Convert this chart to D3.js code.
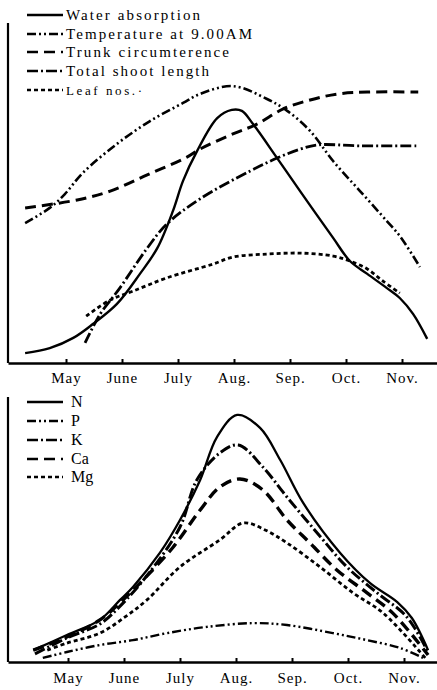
<!DOCTYPE html>
<html>
<head>
<meta charset="utf-8">
<script src="https://cdn.jsdelivr.net/npm/d3@7/dist/d3.min.js"></script>
<style>
  html, body { margin: 0; padding: 0; background: #fff; }
  svg { display: block; }
  svg text { font-family: "Liberation Serif", "DejaVu Serif", "Times New Roman", serif; fill: #000; }
</style>
</head>
<body>
<svg id="chart" width="437" height="690"></svg>
<script>
// ---- Month axis ----
const monthTicks = [5, 6, 7, 8, 9, 10, 11];
const monthLabels = ["May", "June", "July", "Aug.", "Sep.", "Oct.", "Nov."];

// ---- Upper panel: growth and environment (relative units) ----
const waterT = [4.27, 4.71, 5.13, 5.48, 5.91, 6.32, 6.63, 6.91, 7.09, 7.34, 7.70, 7.96, 8.14, 8.34, 8.77, 9.18, 9.77, 10.07, 10.38, 10.73, 10.96, 11.20, 11.45];
const waterV = [3.0, 4.5, 7.6, 11.8, 17.9, 27.0, 34.8, 46.1, 55.2, 64.2, 74.2, 76.7, 76.4, 72.4, 62.1, 52.1, 37.9, 30.9, 27.0, 22.7, 19.7, 14.8, 7.3];

const tempT = [4.27, 4.71, 4.98, 5.30, 5.91, 6.50, 7.09, 7.39, 7.98, 8.59, 8.95, 9.36, 9.77, 10.25, 10.73, 10.96, 11.32];
const tempV = [42.4, 47.0, 51.2, 57.6, 66.4, 73.3, 78.8, 81.5, 83.9, 80.0, 76.4, 70.3, 61.2, 52.1, 43.0, 38.5, 29.1];

const trunkT = [4.27, 5.20, 5.79, 6.45, 7.16, 7.39, 7.98, 8.41, 8.88, 9.36, 9.84, 10.38, 11.29];
const trunkV = [47.0, 49.4, 52.1, 57.0, 62.4, 64.8, 69.4, 72.4, 77.0, 79.7, 81.5, 82.1, 82.1];

const shootT = [5.34, 5.61, 5.96, 6.45, 6.80, 7.39, 8.29, 8.77, 9.18, 9.50, 10.25, 11.29];
const shootV = [6.1, 14.8, 22.7, 34.8, 42.1, 49.7, 58.2, 62.1, 64.8, 66.1, 65.8, 65.8];

const leafT = [5.36, 5.79, 6.20, 6.80, 7.63, 7.98, 8.59, 9.18, 9.77, 10.07, 10.38, 10.66, 10.96];
const leafV = [14.2, 19.1, 21.8, 25.8, 30.0, 32.1, 33.0, 33.3, 32.4, 30.9, 28.5, 24.8, 21.2];

const topNames = ["Water absorption", "Temperature at 9.00AM", "Trunk circumterence", "Total shoot length", "Leaf nos.·"];

// ---- Lower panel: nutrient uptake (relative units) ----
const nT = [4.38, 4.98, 5.57, 5.93, 6.16, 6.64, 7.00, 7.36, 7.66, 8.02, 8.43, 8.79, 9.20, 9.86, 10.39, 10.88, 11.14, 11.43];
const nV = [4.4, 10.0, 15.6, 23.0, 27.8, 40.4, 52.6, 67.4, 83.3, 91.5, 86.7, 74.8, 58.9, 40.4, 29.3, 22.2, 16.3, 4.4];

const pT = [4.55, 4.98, 5.57, 6.16, 6.77, 7.48, 8.30, 8.91, 9.73, 10.34, 10.93, 11.34];
const pV = [1.5, 3.7, 6.3, 8.1, 10.7, 13.0, 14.4, 13.7, 10.7, 8.1, 5.2, 1.5];

const kT = [4.41, 4.98, 5.57, 5.93, 6.46, 7.00, 7.30, 7.71, 8.04, 8.48, 8.91, 9.45, 9.98, 10.52, 11.05, 11.43];
const kV = [3.0, 8.9, 14.1, 20.7, 33.3, 50.0, 67.4, 77.4, 80.4, 72.2, 61.1, 47.8, 35.2, 25.6, 16.7, 3.7];

const caT = [4.38, 4.98, 5.57, 5.98, 6.34, 6.88, 7.36, 7.71, 8.07, 8.48, 8.91, 9.32, 9.80, 10.34, 10.80, 11.43];
const caV = [4.4, 9.3, 15.6, 23.0, 30.4, 42.6, 56.3, 64.8, 67.8, 63.7, 52.6, 44.1, 34.1, 25.6, 18.1, 2.6];

const mgT = [4.63, 4.98, 5.57, 6.02, 6.41, 7.00, 7.71, 8.13, 8.52, 8.91, 9.50, 10.09, 10.63, 11.38];
const mgV = [4.4, 7.0, 10.7, 16.7, 23.0, 35.2, 45.2, 51.5, 48.9, 44.1, 35.2, 25.6, 18.1, 1.5];

const bottomNames = ["N", "P", "K", "Ca", "Mg"];

// ---- Drawing ----
const FONT = "'Liberation Serif', 'DejaVu Serif', serif";
const svg = d3.select("#chart");
const zip = (ts, vs) => ts.map((t, i) => [t, vs[i]]);

const styles = {
  solid:   { dash: null,                 w: 2.4 },
  dashDot2:{ dash: "9,3,2,3,2,3",        w: 2.6 },
  longDash:{ dash: "11,6",               w: 3.0 },
  dashDot: { dash: "11,3,2,3",           w: 2.8 },
  short:   { dash: "4,3",                w: 2.8 }
};

function panel(cfg) {
  const x = d3.scaleLinear().domain(cfg.tDomain).range([8, 437]);
  const y = d3.scaleLinear().domain([0, 100]).range([cfg.axisY, cfg.topY]);
  const g = svg.append("g");

  // left vertical axis line
  g.append("line")
    .attr("x1", 8).attr("x2", 8)
    .attr("y1", cfg.leftTop).attr("y2", cfg.axisY)
    .attr("stroke", "#000").attr("stroke-width", 2.2);

  // bottom month axis with small upward ticks
  const ax = g.append("g")
    .attr("transform", `translate(0,${cfg.axisY})`)
    .call(d3.axisBottom(x)
      .tickValues(monthTicks)
      .tickFormat((d, i) => monthLabels[i])
      .tickSizeInner(-4).tickSizeOuter(0)
      .tickPadding(cfg.pad));
  ax.attr("font-family", FONT).attr("font-size", 15);
  ax.select(".domain").attr("stroke", "#000").attr("stroke-width", 2.4);
  ax.selectAll(".tick line").attr("stroke", "#000").attr("stroke-width", 2);
  ax.selectAll(".tick text")
    .attr("y", cfg.pad).attr("dy", "0.71em")
    .attr("font-family", FONT)
    .style("font-size", "15px")
    .style("letter-spacing", "1px")
    .attr("fill", "#000");

  const line = d3.line()
    .x(d => x(d[0])).y(d => y(d[1]))
    .curve(d3.curveCatmullRom.alpha(0.5));

  cfg.series.forEach(s => {
    const st = styles[s.style];
    g.append("path")
      .datum(zip(s.t, s.v))
      .attr("d", line)
      .attr("fill", "none")
      .attr("stroke", "#000")
      .attr("stroke-width", s.w || st.w)
      .attr("stroke-dasharray", st.dash)
      .attr("stroke-linejoin", "round");
  });

  // legend
  const lg = g.append("g");
  cfg.series.forEach((s, i) => {
    const st = styles[s.style];
    const yy = cfg.legendY[i];
    lg.append("line")
      .attr("x1", 27).attr("x2", 63)
      .attr("y1", yy).attr("y2", yy)
      .attr("stroke", "#000")
      .attr("stroke-width", 2.6)
      .attr("stroke-dasharray", st.dash);
    const tx = lg.append("text")
      .attr("x", cfg.legendTextX).attr("y", yy + cfg.legendFont * 0.33)
      .attr("font-family", FONT)
      .style("font-size", (s.fs || cfg.legendFont) + "px")
      .text(s.name);
    if (s.len) tx.attr("textLength", s.len).attr("lengthAdjust", "spacing");
  });
}

panel({
  tDomain: [5 - 58 / 56, 5 + 371 / 56],
  axisY: 363, topY: 33, leftTop: 23, pad: 9,
  legendTextX: 66, legendFont: 15,
  legendY: [15, 34, 52, 71, 90],
  series: [
    { name: topNames[0], t: waterT, v: waterV, style: "solid", len: 134 },
    { name: topNames[1], t: tempT,  v: tempV,  style: "dashDot2", len: 186 },
    { name: topNames[2], t: trunkT, v: trunkV, style: "longDash", len: 163 },
    { name: topNames[3], t: shootT, v: shootV, style: "dashDot", len: 143 },
    { name: topNames[4], t: leafT,  v: leafV,  style: "short", len: 76, fs: 13 }
  ]
});

panel({
  tDomain: [5 - 60 / 56, 5 + 369 / 56],
  axisY: 662, topY: 392, leftTop: 397, pad: 10,
  legendTextX: 71, legendFont: 16,
  legendY: [402, 421, 440, 459, 477],
  series: [
    { name: bottomNames[0], t: nT,  v: nV,  style: "solid", w: 2.3 },
    { name: bottomNames[1], t: pT,  v: pV,  style: "dashDot2", w: 2.4 },
    { name: bottomNames[2], t: kT,  v: kV,  style: "dashDot", w: 3.0 },
    { name: bottomNames[3], t: caT, v: caV, style: "longDash", w: 3.4 },
    { name: bottomNames[4], t: mgT, v: mgV, style: "short", w: 2.8 }
  ]
});
</script>
</body>
</html>
